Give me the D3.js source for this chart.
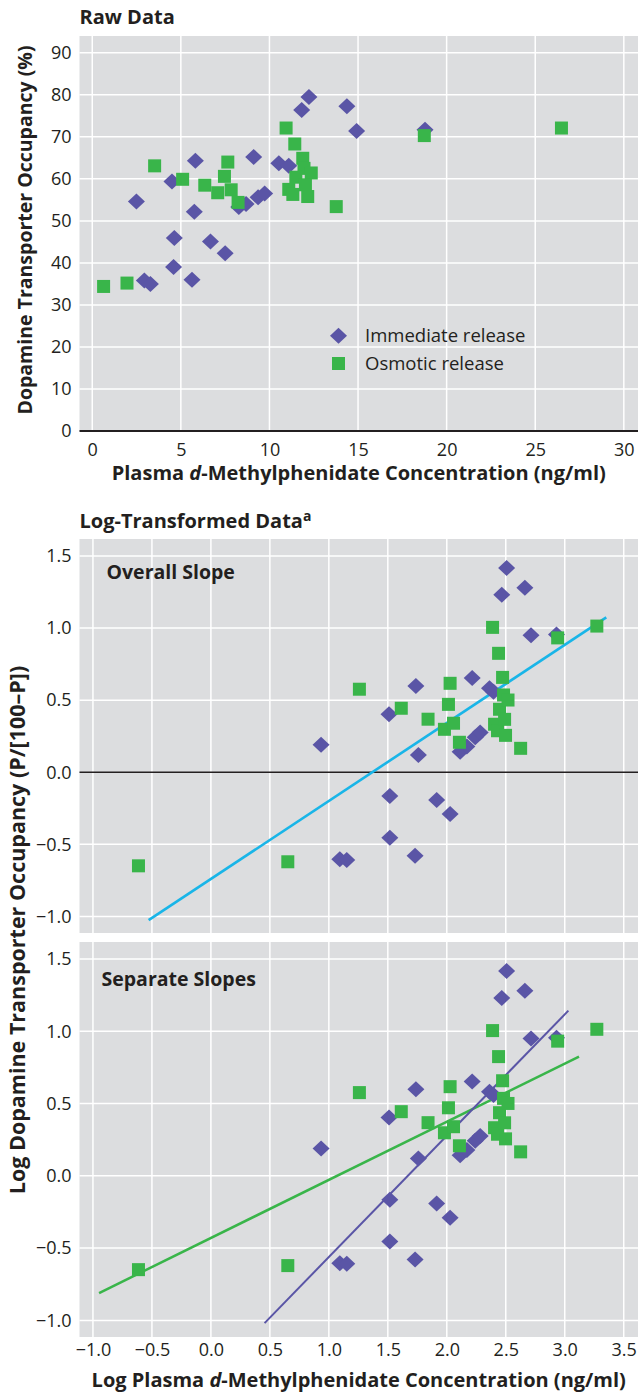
<!DOCTYPE html>
<html>
<head>
<meta charset="utf-8">
<script src="https://cdn.jsdelivr.net/npm/d3@7"></script>
<style>
  body { margin: 0; background: #fff; }
  svg { display: block; }
</style>
</head>
<body>
<script>
// Tick values
const topXTicks = [0, 5, 10, 15, 20, 25, 30];
const topYTicks = [0, 10, 20, 30, 40, 50, 60, 70, 80, 90];
const logXTicks = [-1, -0.5, 0, 0.5, 1, 1.5, 2, 2.5, 3, 3.5];
const logYTicks = [-1, -0.5, 0, 0.5, 1, 1.5];

// Raw data: plasma concentration (ng/ml) vs occupancy (%)
const rawImmediate = [
  [2.49, 54.6], [2.94, 35.8], [3.28, 35.0], [4.50, 59.4], [4.59, 39.0], [4.63, 45.9],
  [5.63, 36.0], [5.76, 52.2], [5.82, 64.3], [6.67, 45.1], [7.50, 42.3], [8.27, 53.3],
  [8.68, 54.0], [9.11, 65.2], [9.36, 55.6], [9.73, 56.5], [10.53, 63.7], [11.09, 63.1],
  [11.82, 76.4], [12.23, 79.5], [14.37, 77.3], [14.92, 71.4], [18.78, 71.7]
];
const rawOsmotic = [
  [0.64, 34.4], [1.96, 35.2], [3.52, 63.1], [5.10, 59.9], [6.35, 58.5], [7.08, 56.7],
  [7.46, 60.6], [7.65, 64.0], [7.84, 57.4], [8.23, 54.4], [10.94, 72.1], [11.43, 68.3],
  [11.88, 64.9], [11.95, 62.5], [12.36, 61.4], [11.49, 60.4], [12.03, 58.6], [11.09, 57.5],
  [11.32, 56.3], [12.16, 55.8], [13.77, 53.4], [18.74, 70.3], [26.48, 72.1]
];

// Log-transformed data: log concentration vs log(P/[100-P])
const logImmediate = [
  [0.934, 0.190], [1.093, -0.604], [1.152, -0.609], [1.510, 0.403], [1.517, -0.165],
  [1.517, -0.454], [1.731, -0.579], [1.738, 0.599], [1.759, 0.120], [1.914, -0.192],
  [2.028, -0.290], [2.113, 0.143], [2.170, 0.178], [2.215, 0.653], [2.241, 0.243],
  [2.283, 0.275], [2.362, 0.582], [2.396, 0.559], [2.466, 1.231], [2.507, 1.417],
  [2.662, 1.280], [2.714, 0.951], [2.930, 0.955]
];
const logOsmotic = [
  [-0.614, -0.649], [0.652, -0.621], [1.259, 0.576], [1.614, 0.444], [1.841, 0.368],
  [1.980, 0.298], [2.014, 0.471], [2.028, 0.617], [2.057, 0.340], [2.107, 0.208],
  [2.388, 1.005], [2.405, 0.333], [2.430, 0.288], [2.439, 0.825], [2.447, 0.437],
  [2.473, 0.658], [2.481, 0.536], [2.490, 0.367], [2.498, 0.256], [2.519, 0.501],
  [2.626, 0.166], [2.940, 0.932], [3.272, 1.014]
];

// Fitted regression lines (end points)
const overallLine = [[-0.528, -1.026], [3.352, 1.074]];
const immediateLine = [[0.455, -1.019], [3.031, 1.143]];
const osmoticLine = [[-0.948, -0.811], [3.121, 0.825]];

const legendLabels = ["Immediate release", "Osmotic release"];

// Look
const width = 638, height = 1393;
const font = "'Open Sans', Lato, sans-serif";
const ink = "#231f20";
const bg = "#dcdddf";
const purple = "#5a55a6";
const green = "#39b54a";
const cyan = "#19b5e8";
const left = 79.5, right = 638;

const svg = d3.select("body").append("svg")
  .attr("width", width)
  .attr("height", height)
  .style("font-family", font);

// Scales
const xRaw = d3.scaleLinear().domain([-0.72, 30.8]).range([left, right]);
const yRaw = d3.scaleLinear().domain([0, 94]).range([431, 36]);
const xLog = d3.scaleLinear().domain([-1.114, 3.621]).range([left, right]);
const yMid = d3.scaleLinear().domain([-1.115, 1.618]).range([933, 539]);
const yBot = d3.scaleLinear().domain([-1.115, 1.618]).range([1337, 942]);

const diamondPath = "M0,-8L8.5,0L0,8L-8.5,0Z";

function drawPanel(x, y, xTicks, yTicks) {
  const g = svg.append("g");
  const [y0, y1] = y.range();
  g.append("rect")
    .attr("x", left).attr("y", y1)
    .attr("width", right - left).attr("height", y0 - y1)
    .attr("fill", bg);
  g.selectAll(".vgrid").data(xTicks).enter().append("line")
    .attr("x1", d => x(d)).attr("x2", d => x(d))
    .attr("y1", y1).attr("y2", y0)
    .attr("stroke", "#fff").attr("stroke-width", 1.5);
  g.selectAll(".hgrid").data(yTicks).enter().append("line")
    .attr("x1", left).attr("x2", right)
    .attr("y1", d => y(d)).attr("y2", d => y(d))
    .attr("stroke", "#fff").attr("stroke-width", 1.5);
  return g;
}

function yAxis(y, ticks, fmt) {
  const g = svg.append("g")
    .attr("transform", `translate(${left},0)`)
    .call(d3.axisLeft(y).tickValues(ticks).tickSize(0).tickPadding(8).tickFormat(fmt));
  g.select(".domain").remove();
  g.attr("font-family", font).attr("font-size", 18);
  g.selectAll("text").attr("fill", ink);
}

function xAxis(x, ypos, ticks, fmt, pad) {
  const g = svg.append("g")
    .attr("transform", `translate(0,${ypos})`)
    .call(d3.axisBottom(x).tickValues(ticks).tickSize(0).tickPadding(pad).tickFormat(fmt));
  g.select(".domain").remove();
  g.attr("font-family", font).attr("font-size", 18);
  g.selectAll("text").attr("fill", ink);
}

function drawLine(x, y, pts, color, w) {
  svg.append("line")
    .attr("x1", x(pts[0][0])).attr("y1", y(pts[0][1]))
    .attr("x2", x(pts[1][0])).attr("y2", y(pts[1][1]))
    .attr("stroke", color).attr("stroke-width", w);
}

function drawMarkers(x, y, diamonds, squares) {
  svg.append("g").selectAll("path").data(diamonds).enter().append("path")
    .attr("d", diamondPath)
    .attr("transform", d => `translate(${x(d[0])},${y(d[1])})`)
    .attr("fill", purple);
  svg.append("g").selectAll("rect").data(squares).enter().append("rect")
    .attr("x", d => x(d[0]) - 6.5).attr("y", d => y(d[1]) - 6.5)
    .attr("width", 13).attr("height", 13)
    .attr("fill", green);
}

// ---- Raw data panel ----
drawPanel(xRaw, yRaw, topXTicks, topYTicks.filter(d => d > 0));
svg.append("line")
  .attr("x1", left).attr("x2", right)
  .attr("y1", yRaw(0)).attr("y2", yRaw(0))
  .attr("stroke", ink).attr("stroke-width", 2.2);
drawMarkers(xRaw, yRaw, rawImmediate, rawOsmotic);
yAxis(yRaw, topYTicks, d3.format("d"));
xAxis(xRaw, yRaw(0), topXTicks, d3.format("d"), 12.5);

svg.append("text")
  .attr("x", left).attr("y", 24)
  .attr("font-size", 20).attr("font-weight", "bold").attr("fill", ink)
  .text("Raw Data");

// legend
const legend = svg.append("g");
legend.append("path").attr("d", diamondPath)
  .attr("transform", "translate(338.5,335.7)").attr("fill", purple);
legend.append("rect").attr("x", 332).attr("y", 357).attr("width", 13).attr("height", 13)
  .attr("fill", green);
legend.selectAll("text").data(legendLabels).enter().append("text")
  .attr("x", 365).attr("y", (d, i) => 335.7 + i * 27.6)
  .attr("dy", "0.35em")
  .attr("font-size", 18.5).attr("fill", ink)
  .text(d => d);

// axis titles
const xt1 = svg.append("text")
  .attr("x", (left + right) / 2).attr("y", 480)
  .attr("text-anchor", "middle")
  .attr("font-size", 20).attr("font-weight", "bold").attr("fill", ink);
xt1.append("tspan").text("Plasma ");
xt1.append("tspan").attr("font-style", "italic").text("d");
xt1.append("tspan").text("-Methylphenidate Concentration (ng/ml)");

svg.append("text")
  .attr("transform", "translate(31.5,230) rotate(-90)")
  .attr("text-anchor", "middle")
  .attr("font-size", 19.5).attr("font-weight", "bold").attr("fill", ink)
  .text("Dopamine Transporter Occupancy (%)");

// ---- Log-transformed panels ----
const logTitle = svg.append("text")
  .attr("x", left).attr("y", 528)
  .attr("font-size", 20).attr("font-weight", "bold").attr("fill", ink);
logTitle.append("tspan").text("Log-Transformed Data");
logTitle.append("tspan").attr("font-size", 14).attr("dy", -7).text("a");

const fmt1 = d3.format(".1f");

// Overall slope
drawPanel(xLog, yMid, logXTicks, logYTicks.filter(d => d !== 0));
svg.append("line")
  .attr("x1", left).attr("x2", right)
  .attr("y1", yMid(0)).attr("y2", yMid(0))
  .attr("stroke", ink).attr("stroke-width", 1.3);
drawLine(xLog, yMid, overallLine, cyan, 2.6);
drawMarkers(xLog, yMid, logImmediate, logOsmotic);
yAxis(yMid, logYTicks, fmt1);
svg.append("text")
  .attr("x", 106.5).attr("y", 579)
  .attr("font-size", 19.5).attr("font-weight", "bold").attr("fill", ink)
  .text("Overall Slope");

// Separate slopes
drawPanel(xLog, yBot, logXTicks, logYTicks);
drawLine(xLog, yBot, osmoticLine, green, 2.5);
drawLine(xLog, yBot, immediateLine, purple, 2);
drawMarkers(xLog, yBot, logImmediate, logOsmotic);
yAxis(yBot, logYTicks, fmt1);
xAxis(xLog, 1337, logXTicks, fmt1, 6);
svg.append("text")
  .attr("x", 101.5).attr("y", 986)
  .attr("font-size", 19.5).attr("font-weight", "bold").attr("fill", ink)
  .text("Separate Slopes");

const xt2 = svg.append("text")
  .attr("x", (left + right) / 2).attr("y", 1387)
  .attr("text-anchor", "middle")
  .attr("font-size", 20).attr("font-weight", "bold").attr("fill", ink);
xt2.append("tspan").text("Log Plasma ");
xt2.append("tspan").attr("font-style", "italic").text("d");
xt2.append("tspan").text("-Methylphenidate Concentration (ng/ml)");

svg.append("text")
  .attr("transform", "translate(24.5,930) rotate(-90)")
  .attr("text-anchor", "middle")
  .attr("font-size", 21.5).attr("font-weight", "bold").attr("fill", ink)
  .text("Log Dopamine Transporter Occupancy (P/[100\u2013P])");
</script>
</body>
</html>
